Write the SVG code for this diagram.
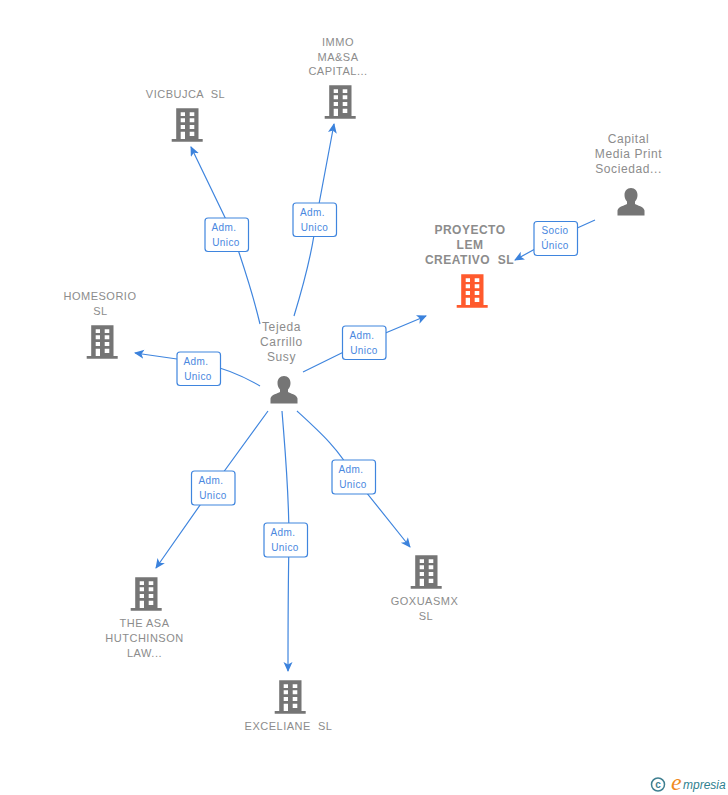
<svg xmlns="http://www.w3.org/2000/svg" width="728" height="795" viewBox="0 0 728 795">
<style>
text{font-family:"Liberation Sans",Arial,sans-serif;text-anchor:middle;white-space:pre}
.n{font-size:11px;fill:#8c8c8c;letter-spacing:.5px}
.m{font-size:12px;fill:#8c8c8c;letter-spacing:.6px}
.t{font-size:12px;fill:#8c8c8c;font-weight:bold;letter-spacing:.5px}
.l{font-size:10px;fill:#4a88e0;letter-spacing:.4px}
.c{fill:none;stroke:#3f85de;stroke-width:1.2}
.b{fill:#fff;stroke:#3f85de;stroke-width:1.2}
.logo{font-style:italic;text-anchor:start}
</style>
<defs>
<marker id="a" markerWidth="12" markerHeight="10" refX="9" refY="4.500" orient="auto" markerUnits="userSpaceOnUse"><path d="M0 0L10 4.500L0 9L2.500 4.500Z" fill="#3b82dc"/></marker>
<symbol id="bld" overflow="visible"><path fill-rule="evenodd" d="M-10.800-16.700H11.500V14H15.700V16.700H-15.300V14H-10.800ZM-6.300-12.700V-9H-2V-12.700ZM2.700-12.700V-9H7.300V-12.700ZM-6.300-6.700V-2.700H-2V-6.700ZM2.700-6.700V-2.700H7.300V-6.700ZM-6.300 0V4H-2V0ZM2.700 0V4H7.300V0ZM-6.300 6.700V14H-2V6.700ZM2.700 6.700V11H7.300V6.700Z"/></symbol>
<symbol id="per" overflow="visible"><path d="M0-14C-4-14-6.500-11-6.500-7C-6.500-4-5.500-2-4-.5V2C-6 3.500-13 4.500-13.500 8.500V13.500H13.500V8.500C13 4.500 6 3.500 4 2V-.5C5.500-2 6.500-4 6.500-7C6.500-11 4-14 0-14Z"/></symbol>
</defs>
<g id="connectors">
<path class="c" marker-end="url(#a)" d="M260 324C252 290 240 255 232 232L191 147"/>
<path class="c" marker-end="url(#a)" d="M294 316C305 280 313 250 316 220L334 124"/>
<path class="c" marker-end="url(#a)" d="M303 372L364 342L426 316"/>
<path class="c" marker-end="url(#a)" d="M260 386C240 374 220 367 198 362L135 353"/>
<path class="c" marker-end="url(#a)" d="M268 411L212 488L156 568"/>
<path class="c" marker-end="url(#a)" d="M282 411C285 450 289 490 289 540C288 590 288 630 288 671"/>
<path class="c" marker-end="url(#a)" d="M297 411C320 432 340 450 354 477L410 547"/>
<path class="c" marker-end="url(#a)" d="M595 220L555 238L515 260"/>
</g>
<g id="edge-labels">
<g><rect class="b" x="205" y="218" width="43.500" height="33.500" rx="3"/><text class="l" x="224" y="231">Adm.</text><text class="l" x="226" y="246">Unico</text></g>
<g><rect class="b" x="293" y="203" width="43.500" height="33.500" rx="3"/><text class="l" x="312.500" y="216">Adm.</text><text class="l" x="314.500" y="231">Unico</text></g>
<g><rect class="b" x="342.500" y="326" width="43.500" height="33.500" rx="3"/><text class="l" x="362" y="339">Adm.</text><text class="l" x="364" y="354">Unico</text></g>
<g><rect class="b" x="177" y="352" width="43.500" height="33.500" rx="3"/><text class="l" x="196" y="365">Adm.</text><text class="l" x="198" y="380">Unico</text></g>
<g><rect class="b" x="191.500" y="471" width="43.500" height="34" rx="3"/><text class="l" x="211" y="484">Adm.</text><text class="l" x="213" y="499">Unico</text></g>
<g><rect class="b" x="264" y="523" width="43.500" height="34" rx="3"/><text class="l" x="283" y="536">Adm.</text><text class="l" x="285" y="551">Unico</text></g>
<g><rect class="b" x="332" y="460" width="43.500" height="34" rx="3"/><text class="l" x="351" y="473">Adm.</text><text class="l" x="353" y="488">Unico</text></g>
<g><rect class="b" x="534" y="221.500" width="43.500" height="34" rx="3"/><text class="l" x="555" y="234">Socio</text><text class="l" x="555" y="249">Único</text></g>
</g>
<g id="node-tejeda"><text class="m" x="281.500" y="331">Tejeda</text><text class="m" x="281.500" y="346">Carrillo</text><text class="m" x="281.500" y="361">Susy</text><use href="#per" x="284" y="390" fill="#757575"/></g>
<g id="node-capital"><text class="m" x="628.500" y="143">Capital</text><text class="m" x="628.500" y="158">Media Print</text><text class="m" x="628.500" y="173">Sociedad...</text><use href="#per" x="631" y="202" fill="#757575"/></g>
<g id="node-proyecto"><text class="t" x="470" y="234">PROYECTO</text><text class="t" x="470" y="249">LEM</text><text class="t" x="469.500" y="264">CREATIVO  SL</text><use href="#bld" x="472" y="291" fill="#ff5a2d"/></g>
<g id="node-immo"><text class="n" x="338" y="46">IMMO</text><text class="n" x="338" y="60.500">MA&amp;SA</text><text class="n" x="338" y="75">CAPITAL...</text><use href="#bld" x="340" y="102" fill="#757575"/></g>
<g id="node-vicbujca"><text class="n" x="185.500" y="98">VICBUJCA  SL</text><use href="#bld" x="187" y="125" fill="#757575"/></g>
<g id="node-homesorio"><text class="n" x="100" y="300">HOMESORIO</text><text class="n" x="100.500" y="315">SL</text><use href="#bld" x="102" y="342" fill="#757575"/></g>
<g id="node-asa"><use href="#bld" x="146" y="594" fill="#757575"/><text class="n" x="144.500" y="627">THE ASA</text><text class="n" x="144.500" y="642">HUTCHINSON</text><text class="n" x="144.500" y="657">LAW...</text></g>
<g id="node-exceliane"><use href="#bld" x="290" y="697" fill="#757575"/><text class="n" x="288.500" y="730">EXCELIANE  SL</text></g>
<g id="node-goxuasmx"><use href="#bld" x="426" y="572" fill="#757575"/><text class="n" x="424.500" y="605">GOXUASMX</text><text class="n" x="426" y="620">SL</text></g>
<g id="logo"><circle cx="658" cy="784.500" r="6.500" fill="none" stroke="#3f7f90" stroke-width="1.500"/><text x="658" y="788" font-size="10" font-weight="bold" fill="#3f7f90">c</text><text class="logo" x="671" y="790" font-size="24" fill="#f08a1d" style="font-family:'Liberation Serif',serif">e</text><text class="logo" x="683" y="789" font-size="12" fill="#2f7f8f">mpresia</text></g>
</svg>
